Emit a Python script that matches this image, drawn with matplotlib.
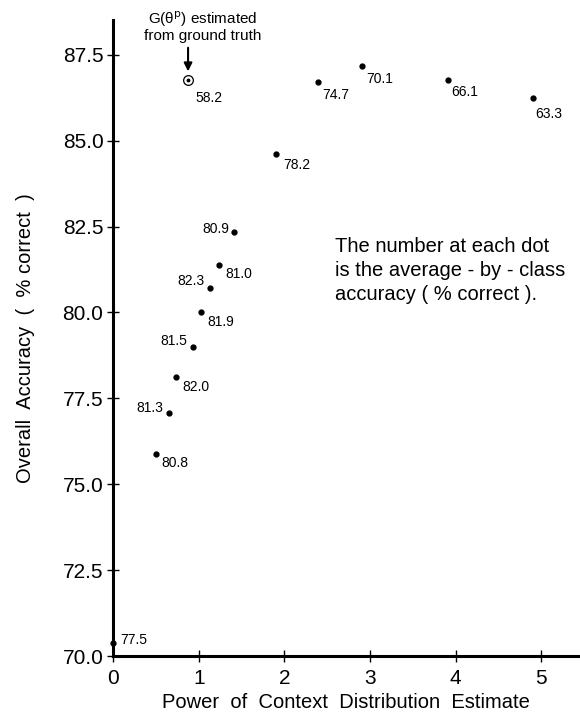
import numpy as np
import matplotlib.pyplot as plt

plt.rcParams['font.family'] = ['Liberation Sans', 'DejaVu Sans']

# power of the context distribution estimate, overall accuracy, average-by-class accuracy
power = [0.0, 0.5, 0.65, 0.74, 0.93, 1.03, 1.13, 1.24, 1.41, 1.90, 2.39, 2.91, 3.91, 4.90]
overall = [70.38, 75.87, 77.09, 78.11, 79.01, 80.0, 80.70, 81.37, 82.35, 84.6, 86.69, 87.18, 86.77, 86.25]
by_class = ['77.5', '80.8', '81.3', '82.0', '81.5', '81.9', '82.3', '81.0', '80.9',
            '78.2', '74.7', '70.1', '66.1', '63.3']

# the ground-truth point
gt_power = 0.875
gt_overall = 86.77
gt_label = '58.2'

# label offsets in points (dx, dy, ha)
offsets = [(5, 2, 'left'), (4, -6, 'left'), (-4, 3, 'right'), (4, -7, 'left'),
           (-4, 4, 'right'), (4, -7, 'left'), (-4, 5, 'right'), (4, -6, 'left'),
           (-3, 2, 'right'), (5, -8, 'left'), (3, -9, 'left'), (3, -10, 'left'),
           (2, -9, 'left'), (2, -12, 'left')]

fig = plt.figure(figsize=(5.8, 7.22), dpi=100)
ax = fig.add_axes([0.195, 0.091, 0.802, 0.881])

ax.plot(power, overall, 'o', color='black', markersize=3.5, clip_on=False, zorder=3)
for x, y, lab, (dx, dy, ha) in zip(power, overall, by_class, offsets):
    ax.annotate(lab, (x, y), xytext=(dx, dy), textcoords='offset points',
                ha=ha, va='center', fontsize=10)

ax.plot(gt_power, gt_overall, 'o', markerfacecolor='none', markeredgecolor='black',
        markersize=7, markeredgewidth=0.9)
ax.plot(gt_power, gt_overall, 'o', color='black', markersize=1.8)
ax.annotate(gt_label, (gt_power, gt_overall), xytext=(5, -13), textcoords='offset points',
            ha='left', va='center', fontsize=10)
ax.text(gt_power + 0.17, 87.85, 'G(θ$^{\\rm p}$) estimated\nfrom ground truth',
        ha='center', va='bottom', fontsize=11, linespacing=1.0, clip_on=False)
ax.annotate('', (gt_power, gt_overall), xytext=(gt_power, 87.7), textcoords='data',
            annotation_clip=False,
            arrowprops=dict(arrowstyle='-|>', color='black', lw=1.5,
                            shrinkA=0, shrinkB=6, mutation_scale=12))

ax.text(2.59, 82.2, 'The number at each dot\nis the average - by - class\naccuracy ( % correct ).',
        fontsize=14.5, va='top', ha='left', linespacing=1.35)

ax.set_xlim(0, 5.43)
ax.set_ylim(70, 88.5)
ax.set_xticks([0, 1, 2, 3, 4, 5])
ax.set_yticks([70.0, 72.5, 75.0, 77.5, 80.0, 82.5, 85.0, 87.5])
ax.set_yticklabels(['70.0', '72.5', '75.0', '77.5', '80.0', '82.5', '85.0', '87.5'])
ax.tick_params(direction='inout', length=8, width=1, labelsize=15)
ax.tick_params(axis='x', pad=5)
ax.tick_params(axis='y', pad=3)
for side in ['top', 'right']:
    ax.spines[side].set_visible(False)
for side in ['left', 'bottom']:
    ax.spines[side].set_linewidth(2.2)

ax.set_xlabel('Power  of  Context  Distribution  Estimate', fontsize=14.5, labelpad=4)
ax.set_ylabel('Overall  Accuracy  (  % correct  )', fontsize=14.5, labelpad=20)

plt.savefig('out.png', dpi=100)
